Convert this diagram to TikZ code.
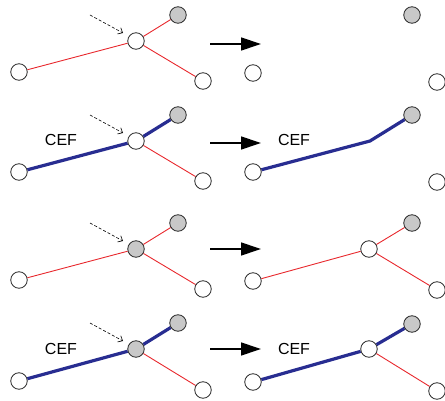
\documentclass[tikz,border=0pt]{standalone}
\usepackage{fontspec}
\setmainfont{Liberation Sans}
\usetikzlibrary{arrows.meta}
\definecolor{edgered}{RGB}{232,40,45}
\definecolor{cefblue}{RGB}{40,45,145}
\definecolor{nodegray}{RGB}{200,200,200}
\pgfdeclarelayer{bg}
\pgfsetlayers{bg,main}
\begin{document}
\begin{tikzpicture}[x=1pt,y=-1pt,
 vtx/.style={circle,draw=black!85,line width=0.8pt,fill=white,minimum size=16.5pt,inner sep=0pt},
 gvtx/.style={vtx,fill=nodegray},
 redge/.style={draw=edgered,line width=0.9pt},
 bedge/.style={draw=cefblue,line width=3.2pt,line join=round},
 hint/.style={densely dashed,line width=0.6pt,-{Straight Barb[length=4pt,width=7pt]}},
 move/.style={line width=1.3pt,-{Triangle[length=20pt,width=13pt]}},
 lbl/.style={font=\fontsize{16}{19}\selectfont,inner sep=0pt}]
\useasboundingbox (0,0) rectangle (445,401);
% ---------- row 1 ----------
\node[vtx]  (aL) at (19,72) {};
\node[vtx]  (aC) at (136,41) {};
\node[gvtx] (aT) at (178,15) {};
\node[vtx]  (aB) at (203,81) {};
\coordinate (aH1) at (90,15); \coordinate (aH2) at (123,33);
\draw[hint] (aH1) -- (aH2);
\coordinate (aM1) at (210,44); \coordinate (aM2) at (261,44);
\draw[move] (aM1) -- (aM2);
\node[vtx]  (aRL) at (253,73) {};
\node[gvtx] (aRT) at (412,15) {};
\node[vtx]  (aRB) at (437,82) {};
\begin{pgfonlayer}{bg}
\draw[redge] (aL) -- (aC) -- (aT);
\draw[redge] (aC) -- (aB);
\end{pgfonlayer}
% ---------- row 2 ----------
\begin{scope}[yshift=-100pt]
\node[vtx]  (bL) at (19,72) {};
\node[vtx]  (bC) at (136,41) {};
\node[gvtx] (bT) at (178,15) {};
\node[vtx]  (bB) at (203,81) {};
\node[lbl]  (bcef) at (61,40) {CEF};
\coordinate (bH1) at (90,15); \coordinate (bH2) at (123,33);
\draw[hint] (bH1) -- (bH2);
\coordinate (bM1) at (210,43); \coordinate (bM2) at (261,43);
\draw[move] (bM1) -- (bM2);
\node[vtx]  (bRL) at (253,72) {};
\coordinate (bRK) at (370,41);
\node[gvtx] (bRT) at (412,15) {};
\node[vtx]  (bRB) at (437,82) {};
\node[lbl]  (brcef) at (294,40) {CEF};
\begin{pgfonlayer}{bg}
\draw[bedge] (bL) -- (bC) -- (bT);
\draw[redge] (bC) -- (bB);
\draw[bedge] (bRL) -- (bRK) -- (bRT);
\end{pgfonlayer}
\end{scope}
% ---------- row 3 ----------
\begin{scope}[yshift=-208pt]
\node[vtx]  (cL) at (19,72) {};
\node[gvtx] (cC) at (136,41) {};
\node[gvtx] (cT) at (178,15) {};
\node[vtx]  (cB) at (203,81) {};
\coordinate (cH1) at (90,15); \coordinate (cH2) at (123,33);
\draw[hint] (cH1) -- (cH2);
\coordinate (cM1) at (210,41); \coordinate (cM2) at (261,41);
\draw[move] (cM1) -- (cM2);
\node[vtx]  (cRL) at (253,73) {};
\node[vtx]  (cRC) at (369,41) {};
\node[gvtx] (cRT) at (412,15) {};
\node[vtx]  (cRB) at (437,82) {};
\begin{pgfonlayer}{bg}
\draw[redge] (cL) -- (cC) -- (cT);
\draw[redge] (cC) -- (cB);
\draw[redge] (cRL) -- (cRC) -- (cRT);
\draw[redge] (cRC) -- (cRB);
\end{pgfonlayer}
\end{scope}
% ---------- row 4 ----------
\begin{scope}[yshift=-308pt]
\node[vtx]  (dL) at (19,73) {};
\node[gvtx] (dC) at (136,41) {};
\node[gvtx] (dT) at (178,15) {};
\node[vtx]  (dB) at (203,82) {};
\node[lbl]  (dcef) at (61,41) {CEF};
\coordinate (dH1) at (90,15); \coordinate (dH2) at (123,33);
\draw[hint] (dH1) -- (dH2);
\coordinate (dM1) at (210,41); \coordinate (dM2) at (261,41);
\draw[move] (dM1) -- (dM2);
\node[vtx]  (dRL) at (253,74) {};
\node[vtx]  (dRC) at (369,41) {};
\node[gvtx] (dRT) at (412,16) {};
\node[vtx]  (dRB) at (437,83) {};
\node[lbl]  (drcef) at (294,41) {CEF};
\begin{pgfonlayer}{bg}
\draw[bedge] (dL) -- (dC) -- (dT);
\draw[redge] (dC) -- (dB);
\draw[bedge] (dRL) -- (dRC) -- (dRT);
\draw[redge] (dRC) -- (dRB);
\end{pgfonlayer}
\end{scope}
\end{tikzpicture}
\end{document}
